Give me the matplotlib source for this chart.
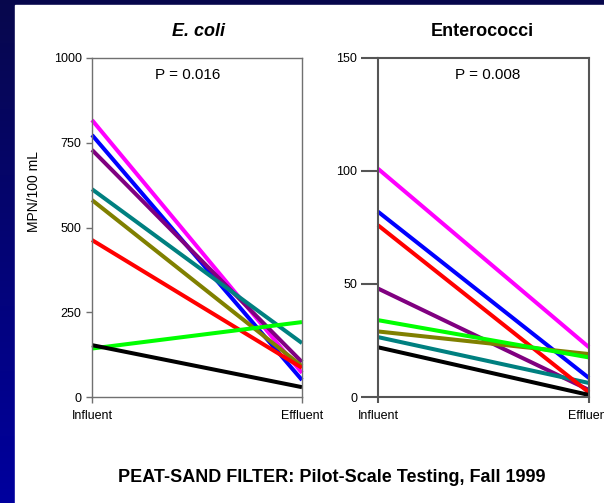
import numpy as np
import matplotlib
matplotlib.use("Agg")
import matplotlib.pyplot as plt
from matplotlib.patches import Rectangle

plt.rcParams['font.family'] = ['Liberation Sans', 'DejaVu Sans']

# Sampling points on the x axis
stages = ["Influent", "Effluent"]

# One line per filter run; colours shared by both panels
run_colors = ["#FF00FF", "#0000FF", "#800080", "#008080",
              "#808000", "#FF0000", "#00FF00", "#000000"]

# E. coli, MPN/100 mL
ecoli_influent = [817, 773, 729, 613, 581, 463, 143, 153]
ecoli_effluent = [71, 50, 103, 159, 91, 86, 221, 29]

# Enterococci, MPN/100 mL
entero_influent = [101, 82, 48, 26.5, 29, 76, 34, 22]
entero_effluent = [22, 8.4, 3.1, 6.2, 19, 2, 17.5, 0.9]

ecoli_ticks = [0, 250, 500, 750, 1000]
entero_ticks = [0, 50, 100, 150]

W, H = 604, 503
fig = plt.figure(figsize=(W / 100, H / 100), dpi=100)

# Slide background: blue gradient with a white content panel
bg = fig.add_axes([0, 0, 1, 1], zorder=-10)
grad = np.linspace(0, 1, 256).reshape(-1, 1)
top = np.array([0.03, 0.03, 0.30])
bot = np.array([0.0, 0.0, 0.62])
img = (top[None, None, :] * (1 - grad[..., None]) + bot[None, None, :] * grad[..., None])
bg.imshow(img, aspect='auto', extent=[0, 1, 0, 1], origin='upper')
bg.add_patch(Rectangle((15 / W, 0), 1 - 15 / W, 1 - 5 / H,
                       transform=bg.transAxes, color='white'))
bg.set_xlim(0, 1)
bg.set_ylim(0, 1)
bg.axis('off')


def px_axes(x0, x1, y_top, y_bot):
    return fig.add_axes([x0 / W, 1 - y_bot / H, (x1 - x0) / W, (y_bot - y_top) / H])


def draw_panel(ax, infl, effl, ticks, spine_color, spine_w, ytick_len):
    x = [0, 1]
    for c, a, b in zip(run_colors, infl, effl):
        ax.plot(x, [a, b], color=c, lw=2.9, solid_capstyle='butt', clip_on=False)
    ax.set_xlim(0, 1)
    ax.set_ylim(ticks[0], ticks[-1])
    ax.set_xticks(x)
    ax.set_xticklabels(stages, fontsize=9)
    ax.set_yticks(ticks)
    ax.set_yticklabels([str(t) for t in ticks], fontsize=9)
    for s in ax.spines.values():
        s.set_color(spine_color)
        s.set_linewidth(spine_w)
    ax.tick_params(axis='y', length=ytick_len, width=spine_w, color=spine_color, pad=3)
    ax.tick_params(axis='x', length=4.5, width=spine_w, color=spine_color, pad=5)


ax1 = px_axes(92, 302, 58, 397)
draw_panel(ax1, ecoli_influent, ecoli_effluent, ecoli_ticks, '#707070', 1.0, 4.5)
ax1.text(0.455, 0.95, "P = 0.016", transform=ax1.transAxes, ha='center', va='center', fontsize=11)
fig.text(198 / W, 1 - 31 / H, "E. coli", ha='center', va='center', fontsize=13,
         fontweight='bold', fontstyle='italic')

ax2 = px_axes(378, 589, 58, 397)
draw_panel(ax2, entero_influent, entero_effluent, entero_ticks, '#555555', 1.5, 12)
ax2.text(0.52, 0.95, "P = 0.008", transform=ax2.transAxes, ha='center', va='center', fontsize=11)
fig.text(482 / W, 1 - 31 / H, "Enterococci", ha='center', va='center', fontsize=13,
         fontweight='bold')

fig.text(34 / W, 1 - 192 / H, "MPN/100 mL", rotation=90, ha='center', va='center', fontsize=10)
fig.text(332 / W, 1 - 477 / H, "PEAT-SAND FILTER: Pilot-Scale Testing, Fall 1999",
         ha='center', va='center', fontsize=13, fontweight='bold')

fig.savefig("out.png", dpi=100)
